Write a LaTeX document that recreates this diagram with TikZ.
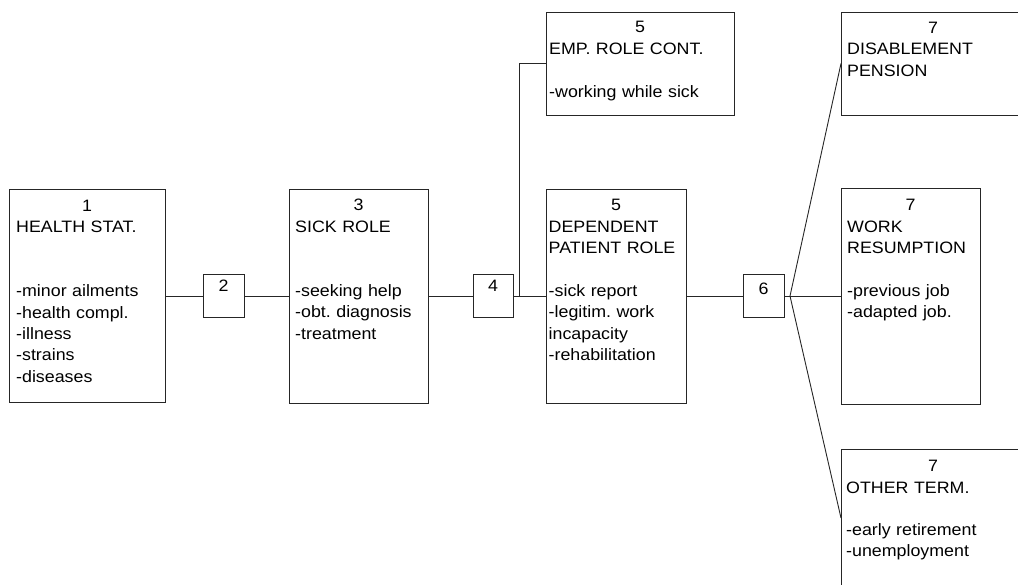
\documentclass[tikz,border=0pt]{standalone}
\usepackage{fontspec}
\setmainfont{Liberation Sans}[FakeStretch=1.08]
\newcommand\dfont{\fontsize{16.5pt}{21.3pt}\selectfont}
\frenchspacing
\begin{document}
\begin{tikzpicture}[x=1pt,y=-1pt,
  box/.style={draw=black!85, line width=0.9pt, anchor=north west, inner sep=0pt, outer sep=0pt},
  conn/.style={draw=black!85, line width=0.9pt},
  txt/.style={anchor=base west, inner sep=0pt, text width=180pt, align=left, font=\dfont},
  num/.style={anchor=base, inner sep=0pt, font=\dfont}]
\useasboundingbox (0,0) rectangle (1018,585);
\clip (0,0) rectangle (1018,585);
% boxes
\node[box, minimum width=156pt, minimum height=213pt] (b1) at (9,189) {};
\node[box, minimum width=41pt, minimum height=43pt] (s2) at (203,274.5) {};
\node[box, minimum width=139pt, minimum height=214pt] (b3) at (289,189) {};
\node[box, minimum width=40pt, minimum height=43pt] (s4) at (473,274.5) {};
\node[box, minimum width=188pt, minimum height=103pt] (emp) at (546,12) {};
\node[box, minimum width=140pt, minimum height=214pt] (dep) at (546,189) {};
\node[box, minimum width=41pt, minimum height=43pt] (s6) at (743,274.5) {};
\node[box, minimum width=184pt, minimum height=103pt] (dis) at (841,12) {};
\node[box, minimum width=139pt, minimum height=216pt] (work) at (841,188) {};
\node[box, minimum width=184pt, minimum height=214pt] (oth) at (841,449) {};
% numbers
\node[num] (n1) at (87,211.5) {1};
\node[num] (n2) at (223.5,291.5) {2};
\node[num] (n3) at (358.5,211) {3};
\node[num] (n4) at (493,292) {4};
\node[num] (n5a) at (640,33) {5};
\node[num] (n5b) at (616,211) {5};
\node[num] (n6) at (763.5,294.5) {6};
\node[num] (n7a) at (933,34) {7};
\node[num] (n7b) at (910.5,211) {7};
\node[num] (n7c) at (933,471.5) {7};
% texts
\node[txt] (t1) at (16,233) {HEALTH STAT.\\[42.6pt]-minor ailments\\-health compl.\\-illness\\-strains\\-diseases};
\node[txt] (t3) at (295,232.7) {SICK ROLE\\[42.6pt]-seeking help\\-obt. diagnosis\\-treatment};
\node[txt] (t5a) at (549,55) {EMP. ROLE CONT.\\[21.3pt]-working while sick};
\node[txt] (t5b) at (548.5,232.7) {DEPENDENT\\PATIENT ROLE\\[21.3pt]-sick report\\-legitim. work\\incapacity\\-rehabilitation};
\node[txt] (t7a) at (847,55) {DISABLEMENT\\PENSION};
\node[txt] (t7b) at (847,232.7) {WORK\\RESUMPTION\\[21.3pt]-previous job\\-adapted job.};
\node[txt] (t7c) at (846,493) {OTHER TERM.\\[21.3pt]-early retirement\\-unemployment};
% connectors
\coordinate (j4) at (519,296);
\coordinate (j6) at (790,296);
\coordinate (oj) at (841,518);
\draw[conn] (b1.east |- s2.west) -- (s2.west);
\draw[conn] (s2.east) -- (s2.east -| b3.west);
\draw[conn] (b3.east |- s4.west) -- (s4.west);
\draw[conn] (s4.east) -- (s4.east -| dep.west);
\draw[conn] (j4) |- (emp.west);
\draw[conn] (dep.east |- s6.west) -- (s6.west);
\draw[conn] (s6.east) -- (s6.east -| work.west);
\draw[conn] (j6) -- (dis.west);
\draw[conn] (j6) -- (oj);
\end{tikzpicture}
\end{document}
